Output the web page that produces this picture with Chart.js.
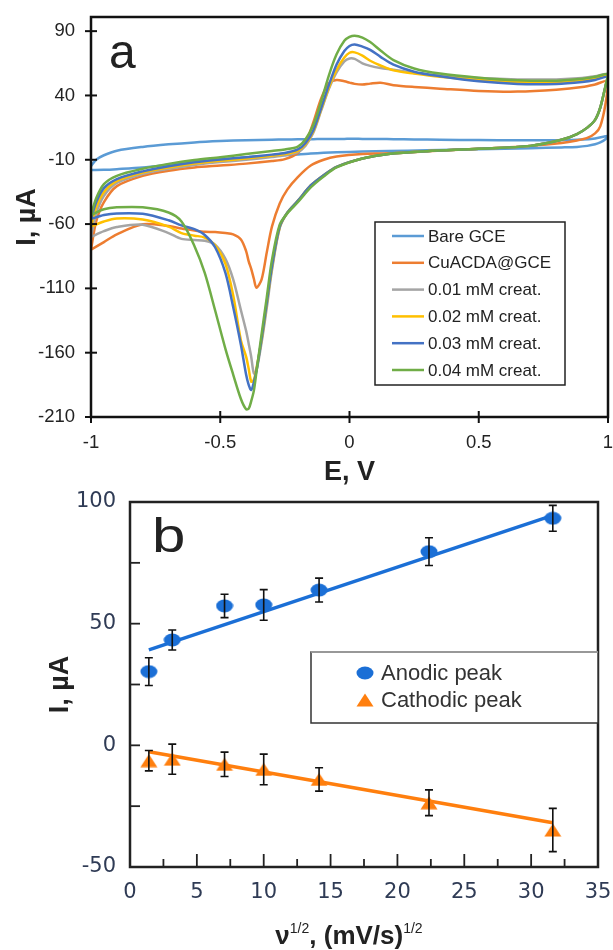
<!DOCTYPE html>
<html>
<head>
<meta charset="utf-8">
<title>CuACDA@GCE voltammetry</title>
<script src="https://cdn.jsdelivr.net/npm/chart.js@4.4.1/dist/chart.umd.min.js"></script>
<style>
  html, body { margin: 0; padding: 0; background: #fff; }
  #wrap { position: relative; width: 613px; height: 950px; overflow: hidden; }
  #chart-a { position: absolute; left: 0; top: 0; }
  #chart-b { position: absolute; left: 0; top: 480px; }
</style>
</head>
<body>
<div id="wrap">
  <canvas id="chart-a" width="613" height="490" style="width:613px;height:490px"></canvas>
  <canvas id="chart-b" width="613" height="470" style="width:613px;height:470px"></canvas>
</div>
<script>
'use strict';

// PANEL A DATA - cyclic voltammograms, E (V) and I (µA)

let scanForwardE = [-1, -0.98, -0.95, -0.9, -0.8, -0.7, -0.6, -0.5, -0.4, -0.3,
  -0.25, -0.2, -0.17, -0.14, -0.11, -0.08, -0.05, -0.02, 0, 0.02,
  0.05, 0.08, 0.12, 0.17, 0.25, 0.35, 0.5, 0.65, 0.8, 0.9,
  0.95, 1];
let scanReverseE = [0.99, 0.97, 0.95, 0.92, 0.88, 0.82, 0.7, 0.5, 0.3, 0.15,
  0.05, -0.05, -0.1, -0.15, -0.2, -0.24, -0.27, -0.3,
  -0.32, -0.34, -0.36, -0.37, -0.38, -0.39, -0.4,
  -0.42, -0.45, -0.48, -0.52, -0.56, -0.6, -0.65, -0.7,
  -0.8, -0.9, -0.95, -1];

let bareForward = [-15, -10, -6.5, -3, 0, 2, 3.5, 4.5, 5.2, 5.6,
  5.8, 5.9, 6, 6, 6.1, 6.1, 6.2, 6.2, 6.3, 6.3,
  6.2, 6.2, 6.1, 6, 5.8, 5.6, 5.3, 5.1, 5.2, 5.7,
  6.6, 8.5];
let bareReverse = [6, 3.5, 2, 0.8, 0, -0.4, -1, -1.8, -2.6, -3.2,
  -3.6, -4.2, -4.6, -5.2, -6, -6.3, -6.6, -7,
  -7.2, -7.4, -7.6, -7.7, -7.8, -8, -8.2,
  -8.4, -9, -9.4, -10, -10.7, -11.5, -12.6, -13.8,
  -16, -17.3, -17.8, -18];

let cuacdaForward = [-80, -58, -43, -30.5, -22.5, -18.5, -16, -14.5, -13, -11,
  -9.5, -4.7, 3.4, 19, 37.5, 49.5, 52, 51, 50, 49,
  48.5, 49.2, 49.8, 48, 46.6, 45.3, 43.5, 43, 44.5, 46.5,
  48.5, 51];
let cuacdaReverse = [33, 16, 10.5, 7, 5, 3, 0.8, -1.5, -3.3, -5,
  -5.5, -7.5, -10, -14.5, -23.5, -33, -44, -62,
  -82, -103, -109.5, -102.5, -95, -89, -81,
  -72, -68, -67, -66.2, -66, -65, -63.5, -61.5,
  -60.2, -68, -74, -80];

let creat01Forward = [-70, -52, -38, -28, -21, -17, -14, -11.8, -10, -7.8,
  -6.5, -4, 1, 11, 28, 45, 58, 66.5, 68.8, 68.5,
  65, 63, 61.3, 60, 57.5, 55.5, 53.5, 52.5, 52.5, 53.5,
  55, 56.5];
let creat01Reverse = [47, 30.5, 21, 15, 10, 5.5, 0.8, -1.5, -3.3, -5.5,
  -9, -15.5, -22, -30, -42, -51, -63, -96,
  -125, -152, -174, -176, -163.5, -153, -143,
  -127, -103, -87, -76, -73, -72.4, -71.5, -67,
  -60.5, -62.3, -65.5, -70];

let creat02Forward = [-62, -47, -35, -26.5, -20, -16, -13, -10.8, -9, -6.8,
  -5.5, -3, 2, 12, 29, 46, 60, 69.5, 73.2, 73.5,
  71, 67, 63.3, 59.5, 57, 54.5, 52, 50.5, 50.5, 52,
  53.5, 55.5];
let creat02Reverse = [47, 30.5, 21, 15, 10, 5.5, 0.8, -1.5, -3.3, -5.5,
  -9, -15.5, -22, -30, -42, -51, -62.5, -94,
  -122, -150, -172, -181, -182.5, -172.5, -163,
  -150.5, -115.4, -91, -76.5, -70.5, -69, -67, -62,
  -56.5, -55.6, -58, -62];

let creat03Forward = [-56, -43, -32, -25, -19, -15, -12, -9.8, -8, -6,
  -4.8, -2, 3, 13, 30, 48, 64, 74.5, 78.5, 79.7,
  78, 75.5, 70, 64, 58.5, 55, 51, 49, 49, 50.5,
  52, 54.5];
let creat03Reverse = [47, 30.5, 21, 15, 10, 5.5, 0.8, -1.5, -3.3, -5.5,
  -9, -15.5, -22, -30, -42, -51, -62, -93,
  -121, -149, -174, -183, -189, -185, -177,
  -154, -124.5, -98, -78, -68.5, -64, -61, -57,
  -52, -51.7, -53, -56];

let creat04Forward = [-53, -40, -29, -22.5, -17, -13.2, -10.2, -8, -5.6, -3.2,
  -2, 0.3, 6, 17, 35, 55.5, 72, 82.5, 85.5, 86.5,
  85, 81.5, 75, 67.5, 61, 57, 53.8, 51.8, 51.5, 53,
  54.5, 56.5];
let creat04Reverse = [47, 30.5, 21, 15, 10, 5.5, 0.8, -1.5, -3.3, -5.5,
  -9, -16, -23, -31.5, -43, -51.5, -60.5, -88,
  -117, -145.5, -175, -189.5, -197.5, -203.5, -204,
  -196, -177, -157, -127, -98, -77, -58, -51,
  -47, -47, -48.5, -53];

let seriesNames = ['Bare GCE', 'CuACDA@GCE', '0.01 mM creat.', '0.02 mM creat.', '0.03 mM creat.', '0.04 mM creat.'];
let seriesColors = ['#5b9bd5', '#ed7d31', '#a5a5a5', '#ffc000', '#4472c4', '#70ad47'];

let aTicksX = [-1, -0.5, 0, 0.5, 1];
let aTicksY = [-210, -160, -110, -60, -10, 40, 90];

// PANEL B DATA - peak current against square root of scan rate

let sqrtScanRate = [1.41, 3.16, 7.07, 10, 14.14, 22.36, 31.62];
let anodicPeak = [30.3, 43.3, 57.3, 57.7, 63.8, 79.6, 93.3];
let anodicError = [5.7, 4.1, 4.8, 6.3, 4.9, 5.7, 5.3];
let cathodicPeak = [-6.3, -5.7, -7.8, -9.9, -14, -23.6, -34.8];
let cathodicError = [4.2, 6.2, 5, 6.3, 4.8, 5.3, 8.9];

let fitX = [1.41, 31.62];
let anodicFit = [39.2, 94.5];
let cathodicFit = [-2.6, -31.8];

let bTicksX = [0, 5, 10, 15, 20, 25, 30, 35];
let bMinorX = [2.5, 7.5, 12.5, 17.5, 22.5, 27.5, 32.5];
let bTicksY = [-50, 0, 50, 100];
let bMinorY = [-25, 25, 75];

// HELPERS

Chart.defaults.font.family = "'Liberation Sans', Arial, sans-serif";

function loopPoints(forward, reverse) {
  let pts = [];
  for (let i = 0; i < scanForwardE.length; i++) {
    pts.push({x: scanForwardE[i], y: forward[i]});
  }
  for (let i = 0; i < scanReverseE.length; i++) {
    pts.push({x: scanReverseE[i], y: reverse[i]});
  }
  return pts;
}

function pairPoints(xs, ys) {
  return xs.map((x, i) => ({x: x, y: ys[i]}));
}

function makeMarker(shape, color) {
  let c = document.createElement('canvas');
  c.width = 18;
  c.height = 14;
  let g = c.getContext('2d');
  g.fillStyle = color;
  g.beginPath();
  if (shape === 'ellipse') {
    g.ellipse(9, 7, 8.5, 6.5, 0, 0, Math.PI * 2);
  } else {
    g.moveTo(9, 0.5);
    g.lineTo(17.5, 13.5);
    g.lineTo(0.5, 13.5);
    g.closePath();
  }
  g.fill();
  return c;
}

// keep the plot frame where it is: tick labels must not push it inward
function fixHeight(h) {
  return s => { s.height = h; s.paddingLeft = 0; s.paddingRight = 0; };
}
function fixWidth(w) {
  return s => { s.width = w; s.paddingTop = 0; s.paddingBottom = 0; };
}

// PLUGINS

let frameTicks = {
  id: 'frameTicks',
  afterDraw(chart, args, opts) {
    let ctx = chart.ctx;
    let area = chart.chartArea;
    let xs = chart.scales.x;
    let ys = chart.scales.y;
    ctx.save();
    ctx.strokeStyle = opts.color;
    ctx.lineWidth = opts.tickWidth;
    function xTick(v, inLen, outLen) {
      let px = xs.getPixelForValue(v);
      ctx.beginPath();
      ctx.moveTo(px, area.bottom - inLen);
      ctx.lineTo(px, area.bottom + outLen);
      ctx.stroke();
    }
    function yTick(v, inLen, outLen) {
      let py = ys.getPixelForValue(v);
      ctx.beginPath();
      ctx.moveTo(area.left + inLen, py);
      ctx.lineTo(area.left - outLen, py);
      ctx.stroke();
    }
    opts.majorX.forEach(v => xTick(v, opts.xIn, opts.out));
    opts.minorX.forEach(v => xTick(v, opts.xInMinor, 0));
    opts.majorY.forEach(v => yTick(v, opts.yIn, opts.out));
    opts.minorY.forEach(v => yTick(v, opts.yInMinor, 0));
    ctx.lineWidth = opts.width;
    ctx.strokeRect(area.left, area.top, area.right - area.left, area.bottom - area.top);
    ctx.restore();
  }
};

let lineLegend = {
  id: 'lineLegend',
  afterDraw(chart, args, opts) {
    let ctx = chart.ctx;
    ctx.save();
    ctx.fillStyle = '#fff';
    ctx.fillRect(opts.left, opts.top, opts.boxWidth, opts.boxHeight);
    ctx.strokeStyle = '#222';
    ctx.lineWidth = 1.5;
    ctx.strokeRect(opts.left, opts.top, opts.boxWidth, opts.boxHeight);
    ctx.font = opts.textFont;
    ctx.textBaseline = 'middle';
    chart.data.datasets.forEach((ds, i) => {
      let y = opts.firstY + i * opts.rowGap;
      ctx.strokeStyle = ds.borderColor;
      ctx.lineWidth = 2.5;
      ctx.beginPath();
      ctx.moveTo(opts.lineX0, y);
      ctx.lineTo(opts.lineX1, y);
      ctx.stroke();
      ctx.fillStyle = '#222';
      ctx.fillText(ds.label, opts.textX, y + 1);
    });
    ctx.restore();
  }
};

let markerLegend = {
  id: 'markerLegend',
  afterDraw(chart, args, opts) {
    let ctx = chart.ctx;
    ctx.save();
    ctx.fillStyle = '#fff';
    ctx.fillRect(opts.left, opts.top, opts.boxWidth, opts.boxHeight);
    ctx.strokeStyle = '#333';
    ctx.lineWidth = 1.5;
    ctx.strokeRect(opts.left, opts.top, opts.boxWidth, opts.boxHeight);
    ctx.strokeStyle = '#aaa';
    ctx.beginPath();
    ctx.moveTo(opts.left, opts.top);
    ctx.lineTo(opts.left + opts.boxWidth, opts.top);
    ctx.stroke();
    ctx.font = opts.textFont;
    ctx.textBaseline = 'middle';
    ctx.fillStyle = '#333';
    let row = 0;
    chart.data.datasets.forEach(ds => {
      if (!ds.inLegend) return;
      let y = opts.firstY + row * opts.rowGap;
      let m = ds.pointStyle;
      ctx.drawImage(m, opts.markX - m.width / 2, y - m.height / 2);
      ctx.fillText(ds.label, opts.textX, y + 1);
      row++;
    });
    ctx.restore();
  }
};

let panelLetter = {
  id: 'panelLetter',
  afterDraw(chart, args, opts) {
    let ctx = chart.ctx;
    ctx.save();
    ctx.font = opts.textFont;
    ctx.fillStyle = '#222';
    ctx.textBaseline = 'alphabetic';
    ctx.translate(opts.x, opts.y);
    ctx.scale(opts.stretch, 1);
    ctx.fillText(opts.text, 0, 0);
    ctx.restore();
  }
};

let supTitle = {
  id: 'supTitle',
  afterDraw(chart, args, opts) {
    let ctx = chart.ctx;
    let parts = opts.parts;
    ctx.save();
    ctx.fillStyle = '#222';
    ctx.textBaseline = 'alphabetic';
    let total = 0;
    parts.forEach(p => {
      ctx.font = p[1] ? opts.supFont : opts.mainFont;
      total += ctx.measureText(p[0]).width;
    });
    let x = opts.cx - total / 2;
    parts.forEach(p => {
      ctx.font = p[1] ? opts.supFont : opts.mainFont;
      ctx.fillText(p[0], x, p[1] ? opts.baseline - opts.raise : opts.baseline);
      x += ctx.measureText(p[0]).width;
    });
    ctx.restore();
  }
};

let errorBars = {
  id: 'errorBars',
  afterDatasetsDraw(chart) {
    let ctx = chart.ctx;
    let xs = chart.scales.x;
    let ys = chart.scales.y;
    ctx.save();
    ctx.strokeStyle = '#111';
    ctx.lineWidth = 1.6;
    chart.data.datasets.forEach(ds => {
      if (!ds.errors) return;
      ds.data.forEach((p, i) => {
        let px = xs.getPixelForValue(p.x);
        let top = ys.getPixelForValue(p.y + ds.errors[i]);
        let bottom = ys.getPixelForValue(p.y - ds.errors[i]);
        ctx.beginPath();
        ctx.moveTo(px, top);
        ctx.lineTo(px, bottom);
        ctx.moveTo(px - 4, top);
        ctx.lineTo(px + 4, top);
        ctx.moveTo(px - 4, bottom);
        ctx.lineTo(px + 4, bottom);
        ctx.stroke();
      });
    });
    ctx.restore();
  }
};

// CHART A

let curves = [
  [bareForward, bareReverse],
  [cuacdaForward, cuacdaReverse],
  [creat01Forward, creat01Reverse],
  [creat02Forward, creat02Reverse],
  [creat03Forward, creat03Reverse],
  [creat04Forward, creat04Reverse]
];

let datasetsA = curves.map((c, i) => ({
  label: seriesNames[i],
  data: loopPoints(c[0], c[1]),
  borderColor: seriesColors[i],
  borderWidth: 2.5,
  showLine: true,
  pointRadius: 0,
  tension: 0.3,
  order: curves.length - i
}));

new Chart(document.getElementById('chart-a'), {
  type: 'scatter',
  data: {datasets: datasetsA},
  options: {
    responsive: false,
    animation: false,
    events: [],
    layout: {padding: {top: 17, right: 5, left: 0, bottom: 0}},
    scales: {
      x: {
        type: 'linear',
        min: -1,
        max: 1,
        afterBuildTicks: s => { s.ticks = aTicksX.map(v => ({value: v})); },
        afterFit: fixHeight(73),
        grid: {display: false, drawTicks: false},
        border: {display: false},
        ticks: {padding: 15, color: '#222', font: {size: 18.5}, autoSkip: false, maxRotation: 0, callback: v => String(v)},
        title: {display: true, text: 'E, V', color: '#222', font: {size: 27, weight: 'bold'}, padding: {top: 0, bottom: 1}}
      },
      y: {
        type: 'linear',
        min: -210,
        max: 101,
        afterBuildTicks: s => { s.ticks = aTicksY.map(v => ({value: v})); },
        afterFit: fixWidth(91),
        grid: {display: false, drawTicks: false},
        border: {display: false},
        ticks: {padding: 16, color: '#222', font: {size: 18.5}, autoSkip: false, callback: v => String(v)},
        title: {display: true, text: 'I, µA', color: '#222', font: {size: 27, weight: 'bold'}, padding: {top: 11, bottom: 0}}
      }
    },
    plugins: {
      legend: {display: false},
      tooltip: {enabled: false},
      frameTicks: {
        color: '#111', width: 2.5, tickWidth: 2,
        majorX: aTicksX, minorX: [], majorY: aTicksY, minorY: [],
        out: 6, xIn: 6, xInMinor: 0, yIn: 6, yInMinor: 0
      },
      lineLegend: {
        left: 375, top: 222, boxWidth: 190, boxHeight: 163,
        firstY: 236, rowGap: 26.8, lineX0: 392, lineX1: 424, textX: 428,
        textFont: "17px 'Liberation Sans', Arial, sans-serif"
      },
      panelLetter: {text: 'a', x: 109, y: 68, stretch: 1, textFont: "48px 'Liberation Sans', Arial, sans-serif"}
    }
  },
  plugins: [frameTicks, lineLegend, panelLetter]
});

// CHART B

let anodicMark = makeMarker('ellipse', '#1b6fd6');
let cathodicMark = makeMarker('triangle', '#ff7f0e');

new Chart(document.getElementById('chart-b'), {
  type: 'scatter',
  data: {
    datasets: [
      {
        label: 'Anodic peak',
        data: pairPoints(sqrtScanRate, anodicPeak),
        errors: anodicError,
        inLegend: true,
        pointStyle: anodicMark,
        pointRadius: 8,
        order: 1
      },
      {
        label: 'Cathodic peak',
        data: pairPoints(sqrtScanRate, cathodicPeak),
        errors: cathodicError,
        inLegend: true,
        pointStyle: cathodicMark,
        pointRadius: 8,
        order: 1
      },
      {
        label: 'Anodic fit',
        data: pairPoints(fitX, anodicFit),
        showLine: true,
        borderColor: '#1b6fd6',
        borderWidth: 3.5,
        pointRadius: 0,
        order: 2
      },
      {
        label: 'Cathodic fit',
        data: pairPoints(fitX, cathodicFit),
        showLine: true,
        borderColor: '#ff7f0e',
        borderWidth: 3.5,
        pointRadius: 0,
        order: 2
      }
    ]
  },
  options: {
    responsive: false,
    animation: false,
    events: [],
    layout: {padding: {top: 22, right: 15, left: 0, bottom: 0}},
    scales: {
      x: {
        type: 'linear',
        min: 0,
        max: 35,
        afterBuildTicks: s => { s.ticks = bTicksX.map(v => ({value: v})); },
        afterFit: fixHeight(83),
        grid: {display: false, drawTicks: false},
        border: {display: false},
        ticks: {padding: 13, color: '#2f3b55', font: {family: "'DejaVu Sans', sans-serif", size: 21}, autoSkip: false, maxRotation: 0, callback: v => String(v)},
        title: {display: false}
      },
      y: {
        type: 'linear',
        min: -50,
        max: 100,
        afterBuildTicks: s => { s.ticks = bTicksY.map(v => ({value: v})); },
        afterFit: fixWidth(130),
        grid: {display: false, drawTicks: false},
        border: {display: false},
        ticks: {padding: 14, color: '#2f3b55', font: {family: "'DejaVu Sans', sans-serif", size: 21}, autoSkip: false, callback: v => String(v)},
        title: {display: true, text: 'I, µA', color: '#222', font: {size: 27, weight: 'bold'}, padding: {top: 44, bottom: 0}}
      }
    },
    plugins: {
      legend: {display: false},
      tooltip: {enabled: false},
      frameTicks: {
        color: '#222', width: 2.5, tickWidth: 1.8,
        majorX: bTicksX, minorX: bMinorX, majorY: bTicksY, minorY: bMinorY,
        out: 0, xIn: 13, xInMinor: 8, yIn: 10, yInMinor: 10
      },
      markerLegend: {
        left: 311, top: 172, boxWidth: 287, boxHeight: 71,
        firstY: 193, rowGap: 27, markX: 365, textX: 381,
        textFont: "22px 'Liberation Sans', Arial, sans-serif"
      },
      panelLetter: {text: 'b', x: 152, y: 72, stretch: 1.25, textFont: "48px 'Liberation Sans', Arial, sans-serif"},
      supTitle: {
        parts: [['ν', false], ['1/2', true], [', (mV/s)', false], ['1/2', true]],
        cx: 349, baseline: 464, raise: 11,
        mainFont: "bold 26px 'Liberation Sans', Arial, sans-serif",
        supFont: "14px 'Liberation Sans', Arial, sans-serif"
      }
    }
  },
  plugins: [frameTicks, errorBars, markerLegend, panelLetter, supTitle]
});
</script>
</body>
</html>
